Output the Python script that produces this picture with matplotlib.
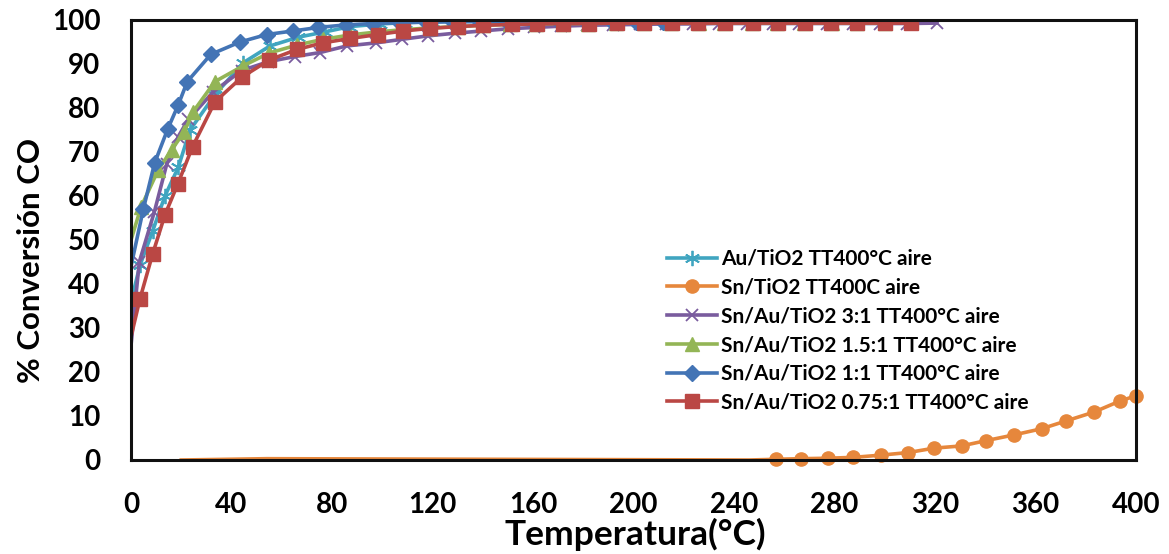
import matplotlib
matplotlib.use("Agg")
import matplotlib.pyplot as plt

plt.rcParams['font.family'] = ['Lato', 'DejaVu Sans']

labels = ["Au/TiO2 TT400°C aire", "Sn/TiO2 TT400C aire", "Sn/Au/TiO2 3:1 TT400°C aire",
          "Sn/Au/TiO2 1.5:1 TT400°C aire", "Sn/Au/TiO2 1:1 TT400°C aire",
          "Sn/Au/TiO2 0.75:1 TT400°C aire"]

au_x = [0, 3.6, 8.6, 13.5, 18.8, 23.5, 33.4, 44.7, 55.3, 66.6, 77.2, 87.2, 99, 109, 119.7, 130, 140.5, 151, 161.5, 172]
au_y = [36, 44.3, 52, 60, 66.5, 75, 83, 90.3, 94.1, 96.1, 97.3, 98.5, 99.1, 99.4, 99.6, 99.7, 99.8, 99.8, 99.9, 99.9]

sn_x = [20, 54, 246, 256.7, 266.5, 277.3, 287.5, 298.4, 309.4, 319.7, 330.6, 340.3, 351.4, 362.4, 372.3, 383.3, 393.6, 400]
sn_y = [0, 0.3, 0, 0.16, 0.3, 0.4, 0.6, 1.1, 1.7, 2.7, 3.2, 4.4, 5.7, 7.1, 8.9, 10.9, 13.4, 14.6]

p31_x = [0, 3.3, 9.3, 14.2, 18.8, 22.8, 32.8, 44, 54.5, 65.3, 75.2, 85.8, 97.5, 107.7, 118.3, 129, 139.5, 150,
         160.5, 171, 181.5, 192, 202.5, 213, 223.5, 234, 245, 255.5, 266, 277, 287.5, 298, 309, 320.7]
p31_y = [26, 45, 56.4, 67.2, 73.5, 77.4, 83.7, 88.5, 90.5, 91.7, 92.6, 94.1, 94.8, 95.6, 96.4, 97, 97.5, 98,
         98.3, 98.6, 98.8, 98.9, 99.0, 99.1, 99.1, 99.2, 99.2, 99.2, 99.2, 99.2, 99.2, 99.2, 99.2, 99.3]

p15_x = [0, 4, 10.9, 16.2, 21.2, 24.8, 33.4, 44.7, 55, 66, 76.3, 87.2, 98.2, 108.4, 119, 130, 140.2, 151, 161,
         172, 182, 193, 204, 215, 226, 236, 247, 257, 268, 279, 289, 300]
p15_y = [50, 57.5, 66, 70.5, 74.6, 79.2, 86, 89.6, 92.5, 94.3, 95.6, 96.6, 97.3, 97.8, 98.2, 98.5, 98.8, 99.0,
         99.1, 99.2, 99.2, 99.3, 99.3, 99.3, 99.3, 99.3, 99.3, 99.3, 99.3, 99.3, 99.3, 99.3]

p11_x = [0, 4.9, 9.4, 14.6, 18.8, 22.4, 31.8, 43.4, 54, 64.4, 74.5, 85.6, 96.4, 107, 117.5, 128, 139, 149.5,
         160, 170.5, 181, 191.5, 201, 211.7]
p11_y = [44, 57, 67.5, 75.2, 80.7, 86, 92.2, 95, 96.7, 97.5, 98.3, 98.9, 99.2, 99.4, 99.5, 99.6, 99.6, 99.6,
         99.6, 99.6, 99.6, 99.6, 99.6, 99.6]

p075_x = [0, 3.6, 8.6, 13.5, 18.6, 24.5, 33.4, 44.1, 55, 66, 76.3, 87.2, 98.2, 108.4, 119, 130, 140.2, 151.5,
          161.4, 172, 182.4, 193.3, 204.3, 215.2, 225.8, 236.4, 247.7, 257.4, 268.3, 278.5, 289.1, 300.1, 310.3]
p075_y = [28, 36.7, 46.8, 55.7, 62.7, 71.2, 81.4, 87, 90.9, 93.3, 94.8, 95.8, 96.7, 97.5, 98.1, 98.5, 98.8, 99.0,
          99.1, 99.2, 99.2, 99.3, 99.3, 99.3, 99.3, 99.3, 99.3, 99.3, 99.3, 99.3, 99.3, 99.3, 99.3]

x_ticks = [0, 40, 80, 120, 160, 200, 240, 280, 320, 360, 400]
y_ticks = [0, 10, 20, 30, 40, 50, 60, 70, 80, 90, 100]

fig = plt.figure(figsize=(11.69, 5.54), dpi=100)
ax = fig.add_axes([131/1169, 1 - 460/554, (1136-131)/1169, (460-20)/554])

lw = 2.6
series = [
    (au_x, au_y, dict(color='#40A5C0', marker=(6, 2, 0), markersize=11, markeredgewidth=1.3), 1),
    (sn_x, sn_y, dict(color='#E6873C', marker='o', markersize=9.5), 3),
    (p31_x, p31_y, dict(color='#7A5C9E', marker='x', markersize=9, markeredgewidth=1.3), 1),
    (p15_x, p15_y, dict(color='#93B556', marker='^', markersize=10), 1),
    (p11_x, p11_y, dict(color='#4374B5', marker='D', markersize=8), 1),
    (p075_x, p075_y, dict(color='#BA4744', marker='s', markersize=10.5), 1),
]
for (xs, ys, st, start), lab in zip(series, labels):
    ax.plot(xs, ys, linewidth=lw, label=lab, markevery=list(range(start, len(xs))),
            clip_on=False if st['marker'] == 'o' else True, **st)

ax.set_xlim(0, 400)
ax.set_ylim(0, 100)
ax.set_xticks(x_ticks)
ax.set_yticks(y_ticks)
ax.tick_params(axis='y', length=0, labelsize=20, pad=22)
ax.tick_params(axis='x', length=0, labelsize=20, pad=23)
for t in ax.get_xticklabels() + ax.get_yticklabels():
    t.set_fontweight('bold')
for s in ax.spines.values():
    s.set_linewidth(2.2)
    s.set_color('#111111')

fig.text(635/1169, 1 - 551/554, "Temperatura(°C)", ha='center', va='bottom', fontsize=25.5, fontweight='bold')
fig.text(31/1169, 1 - 260/554, "% Conversión CO", ha='center', va='center', rotation=90, fontsize=22.5,
         fontweight='bold')

leg = ax.legend(loc='upper left', bbox_to_anchor=(667/1169, 1 - 249/554), bbox_transform=fig.transFigure,
                frameon=False, fontsize=15, handlelength=2.4, handletextpad=0.2, labelspacing=0.42,
                borderaxespad=0, borderpad=0)
for t in leg.get_texts():
    t.set_fontweight('bold')

fig.savefig("out.png", dpi=100)
